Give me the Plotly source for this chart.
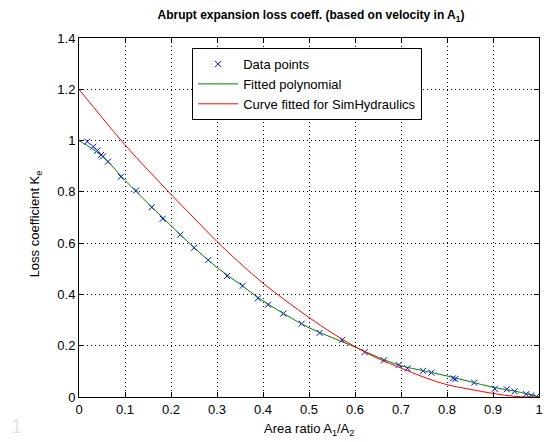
import plotly.graph_objects as go

# Measured data points (area ratio, loss coefficient)
data_x = [0.018, 0.031, 0.040, 0.048, 0.052, 0.063, 0.091, 0.124, 0.158, 0.182,
          0.220, 0.250, 0.281, 0.322, 0.356, 0.389, 0.411, 0.444, 0.484, 0.523,
          0.572, 0.621, 0.663, 0.695, 0.714, 0.748, 0.766, 0.813, 0.818, 0.859,
          0.904, 0.930, 0.947, 0.972, 0.983, 0.994]
data_y = [0.996, 0.976, 0.961, 0.944, 0.938, 0.918, 0.859, 0.805, 0.740, 0.695,
          0.633, 0.582, 0.534, 0.472, 0.434, 0.385, 0.360, 0.325, 0.286, 0.250,
          0.222, 0.175, 0.143, 0.125, 0.112, 0.102, 0.095, 0.073, 0.070, 0.056,
          0.032, 0.030, 0.022, 0.011, 0.006, 0.001]

# Curves
curve_x = [0.0, 0.05, 0.1, 0.15, 0.2, 0.25, 0.3, 0.35, 0.4, 0.45, 0.5,
           0.55, 0.6, 0.65, 0.7, 0.75, 0.8, 0.85, 0.9, 0.95, 1.0]
poly_y = [1.0, 0.94, 0.845, 0.755, 0.668, 0.583, 0.505, 0.44, 0.375, 0.32, 0.27,
          0.232, 0.195, 0.155, 0.122, 0.102, 0.082, 0.06, 0.038, 0.022, 0.0]
sim_y = [1.2, 1.09, 0.983, 0.885, 0.79, 0.698, 0.606, 0.522, 0.444, 0.375, 0.31,
         0.25, 0.196, 0.15, 0.113, 0.077, 0.048, 0.03, 0.014, 0.002, 0.0]

x_ticks = [0, 0.1, 0.2, 0.3, 0.4, 0.5, 0.6, 0.7, 0.8, 0.9, 1]
y_ticks = [0, 0.2, 0.4, 0.6, 0.8, 1, 1.2, 1.4]

FONT = "Liberation Sans, Arial, sans-serif"

fig = go.Figure()
fig.add_trace(go.Scatter(
    x=data_x, y=data_y, mode="markers", name="Data points",
    marker=dict(symbol="x-thin-open", size=6, color="#0000ff",
                line=dict(color="#0000ff", width=1)),
))
fig.add_trace(go.Scatter(
    x=curve_x, y=poly_y, mode="lines", name="Fitted polynomial",
    line=dict(color="#008000", width=1, shape="spline"),
))
fig.add_trace(go.Scatter(
    x=curve_x, y=sim_y, mode="lines", name="Curve fitted for SimHydraulics",
    line=dict(color="#ff0000", width=1, shape="spline"),
))

axis_common = dict(
    showline=True, linecolor="black", linewidth=1, mirror="allticks",
    ticks="inside", ticklen=5, tickcolor="black", tickwidth=1,
    showgrid=True, gridcolor="black", gridwidth=1, griddash="1px,3px",
    zeroline=False, tickfont=dict(family=FONT, size=13, color="black"),
)

fig.update_layout(
    width=551, height=442,
    paper_bgcolor="white", plot_bgcolor="white",
    margin=dict(l=79, r=8, t=38, b=45),
    font=dict(family=FONT, size=12, color="black"),
    title=dict(
        text="<b>Abrupt expansion loss coeff. (based on velocity in A<sub>1</sub>)</b>",
        x=(79 + 464 / 2) / 551, xanchor="center", y=1 - 15 / 442, yanchor="middle",
        font=dict(family=FONT, size=12, color="black"),
    ),
    xaxis=dict(range=[0, 1], tickvals=x_ticks, **axis_common),
    yaxis=dict(range=[0, 1.4], tickvals=y_ticks, **axis_common),
    legend=dict(
        x=0.246, y=0.972, xanchor="left", yanchor="top",
        bgcolor="white", bordercolor="black", borderwidth=1,
        font=dict(family=FONT, size=13, color="black"),
        tracegroupgap=0, itemwidth=40,
    ),
    showlegend=True,
    annotations=[
        dict(text="Area ratio A<sub>1</sub>/A<sub>2</sub>", xref="paper", yref="paper",
             x=0.5, y=-(429 - 397) / 359, xanchor="center", yanchor="middle",
             showarrow=False, font=dict(family=FONT, size=13, color="black")),
        dict(text="Loss coefficient K<sub>e</sub>", xref="paper", yref="paper",
             x=-(79 - 36) / 464, y=(397 - 224) / 359, xanchor="center", yanchor="middle",
             textangle=-90, showarrow=False,
             font=dict(family=FONT, size=13, color="black")),
        dict(text="1", xref="paper", yref="paper",
             x=-(79 - 16) / 464, y=-(426 - 397) / 359, xanchor="center", yanchor="middle",
             showarrow=False, font=dict(family=FONT, size=20, color="#e4e4e4")),
    ],
)

fig.write_html("out.html", config={"displayModeBar": False},
               post_script="document.body.style.margin='0';")
